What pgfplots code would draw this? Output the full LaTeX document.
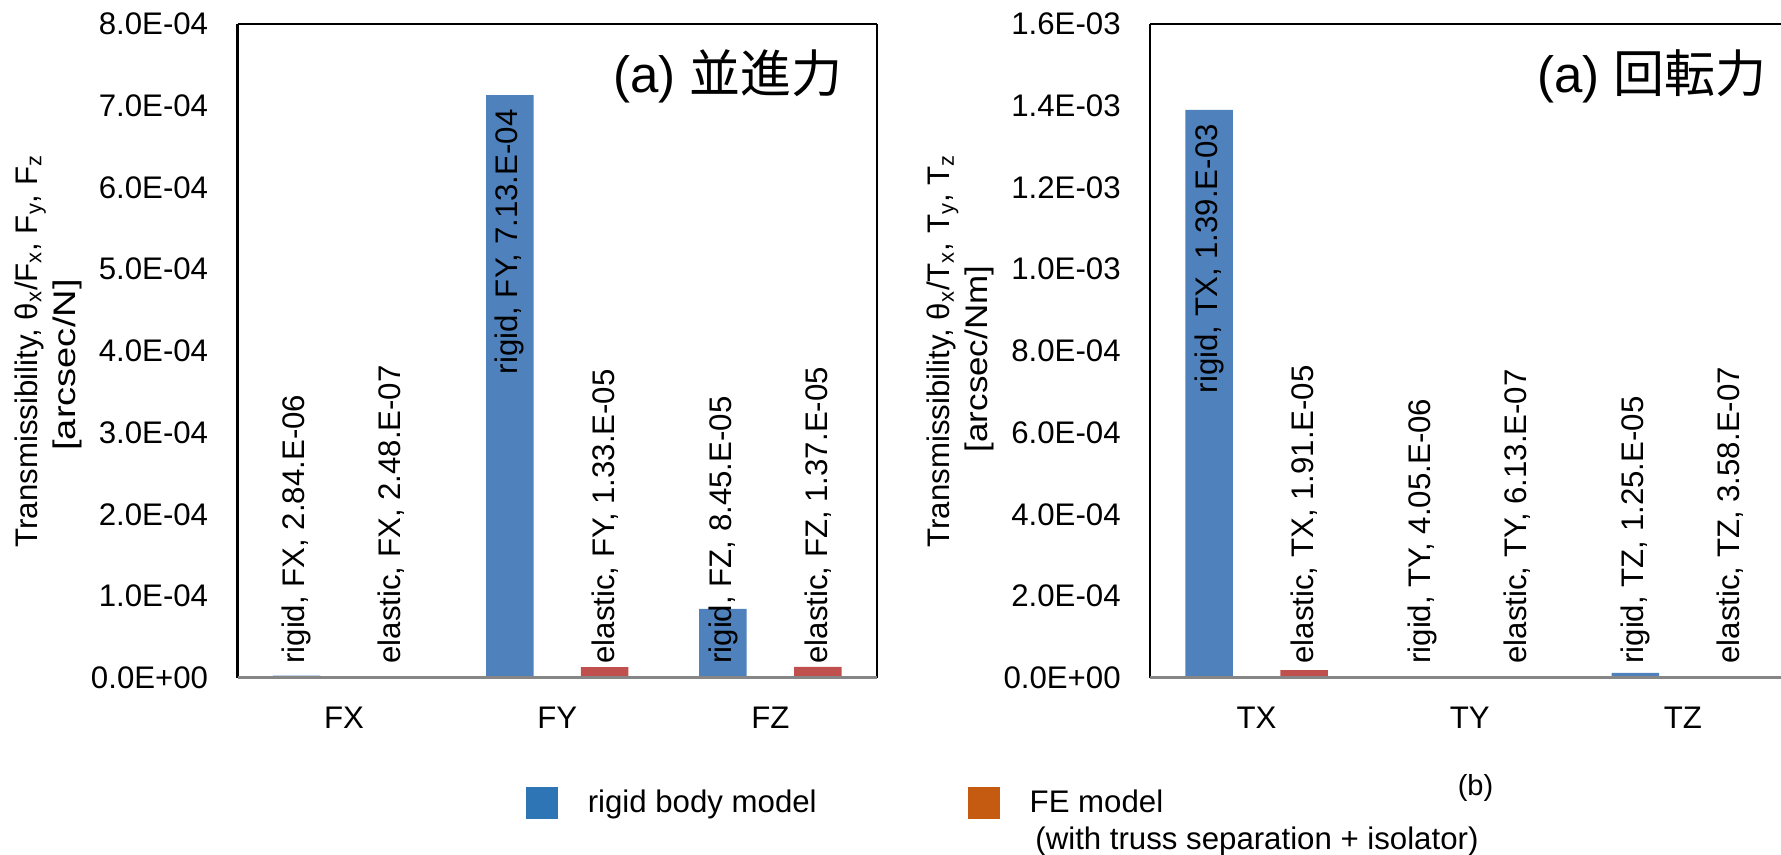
\documentclass[border=0pt]{standalone}
\usepackage{graphicx}
\usepackage{pgfplots}
\pgfplotsset{compat=1.18}
\usepackage{pgfplotstable}
\usepackage{fontspec}
\setmainfont{Liberation Sans}
\newfontfamily\cjk{Noto Sans CJK JP}

\definecolor{barblue}{HTML}{4F81BD}
\definecolor{barred}{HTML}{C0504D}
\definecolor{legblue}{HTML}{2E75B6}
\definecolor{legorange}{HTML}{C55A11}
\definecolor{axisgray}{HTML}{868686}

\newcommand\basefont{\fontsize{15.6pt}{19pt}\selectfont}
\newcommand\titlefont{\fontsize{25.5pt}{30pt}\selectfont}
% exponent printed with sign and two digits, e.g. -04
\newcommand\expfmt[1]{\ifnum#1<0 -0\number-#1\else +0\number#1\fi}
% component letter from the category position 0,1,2
\newcommand\complet[1]{\ifdim#1pt<0.5pt X\else\ifdim#1pt<1.5pt Y\else Z\fi\fi}
\pgfset{/pgf/number format/barnum/.style={sci, sci zerofill, precision=2,
    assume math mode=true,
    sci generic={mantissa sep={.E},exponent={\expfmt{##1}}}}}

% translational inputs: rtop=1 puts the rigid label inside the top of its bar
\pgfplotstableread{
x rigid   elastic rtop
0 2.84e-6 2.48e-7 0
1 7.13e-4 1.33e-5 1
2 8.45e-5 1.37e-5 0
}\forcedata
% rotational inputs
\pgfplotstableread{
x rigid   elastic rtop
0 1.39e-3 1.91e-5 1
1 4.05e-6 6.13e-7 0
2 1.25e-5 3.58e-7 0
}\torquedata

\pgfplotsset{
  tbar/.style={
    scale only axis, width=319.75pt, height=327pt,
    xmin=-0.5, xmax=2.5, xtick={0,1,2}, ymin=0,
    scaled y ticks=false,
    tick style={draw=none},
    separate axis lines,
    x axis line style={draw=none},
    y axis line style={black, line width=1.25pt},
    tick label style={font=\basefont},
    yticklabel style={anchor=east, inner sep=0pt, xshift=-14.5pt},
    xticklabel style={anchor=base, inner sep=0pt, yshift=-25.5pt},
    every axis y label/.style={at={(axis description cs:-0.3495,0.5)},
      rotate=90, anchor=north, align=center, inner sep=0pt, font=\basefont},
    clip=false,
  },
  rigidbar/.style={ybar, bar width=0.2227, bar shift=-0.2227,
    fill=barblue, draw=none, forget plot},
  elasticbar/.style={ybar, bar width=0.2227, bar shift=0.2227,
    fill=barred, draw=none, forget plot},
  barlabel/.style 2 args={draw=none, mark=none, forget plot,
    point meta=explicit,
    visualization depends on={\thisrow{x}\as\labx},
    nodes near coords={#1, #2\complet{\labx}, \pgfmathprintnumber[barnum]{\pgfplotspointmeta}}},
  rigidlabel/.style={barlabel={rigid}{#1},
    visualization depends on={180-180*\thisrow{rtop}\as\labang},
    visualization depends on={7-14*\thisrow{rtop}\as\labdy},
    nodes near coords style={yshift=\labdy pt, rotate=90, anchor=\labang,
      inner sep=0pt, font=\basefont}},
  elasticlabel/.style={barlabel={elastic}{#1},
    nodes near coords style={yshift=7pt, rotate=90, anchor=west,
      inner sep=0pt, font=\basefont}},
}

\begin{document}
\begin{tikzpicture}
% ---- forces ----
\begin{axis}[tbar, at={(118.75pt,88.5pt)}, anchor=south west,
  ymax=8e-4, ytick={0,1e-4,2e-4,3e-4,4e-4,5e-4,6e-4,7e-4,8e-4},
  yticklabels={0.0E+00,1.0E-04,2.0E-04,3.0E-04,4.0E-04,5.0E-04,6.0E-04,7.0E-04,8.0E-04},
  xticklabels={FX,FY,FZ},
  ylabel={Transmissibility, θ\textsubscript{x}/F\textsubscript{x}, F\textsubscript{y}, F\textsubscript{z}\\{\scalebox{1.22}[1]{[arcsec/N]}\hspace*{14pt}}},
  legend columns=2,
  legend style={at={(axis description cs:0.4511,-0.19037)}, anchor=west,
    draw=none, fill=none, inner sep=0pt, outer sep=0pt, font=\basefont,
    nodes={inner sep=0pt},
    /tikz/every odd column/.append style={column sep=15pt},
    /tikz/every even column/.append style={column sep=75.6pt}},
  legend cell align=left,
]
\addplot[rigidbar] table[x=x, y=rigid] {\forcedata};
\addplot[elasticbar] table[x=x, y=elastic] {\forcedata};
\addplot[rigidlabel=F] table[x expr=\thisrow{x}-0.2227, y expr=\thisrow{rigid}*\thisrow{rtop}, meta=rigid] {\forcedata};
\addplot[elasticlabel=F] table[x expr=\thisrow{x}+0.2227, y expr=0, meta=elastic] {\forcedata};
\draw[black, line width=1.25pt] (rel axis cs:0,1) -- (rel axis cs:1,1);
\draw[axisgray, line width=1.5pt] (rel axis cs:0,0) -- (rel axis cs:1,0);
\node[anchor=east, inner sep=0pt, font=\titlefont] at (axis description cs:0.9468,0.9205) {(a) {\cjk 並進力}};
\addlegendimage{legend image code/.code={\fill[legblue] (0pt,-7.75pt) rectangle (15.5pt,7.75pt);}}
\addlegendentry{rigid body model}
\addlegendimage{legend image code/.code={\fill[legorange] (0pt,-7.75pt) rectangle (15.5pt,7.75pt);}}
\addlegendentry{FE model}
\end{axis}
% ---- torques ----
\begin{axis}[tbar, at={(575pt,88.5pt)}, anchor=south west,
  ymax=1.6e-3, ytick={0,2e-4,4e-4,6e-4,8e-4,1e-3,1.2e-3,1.4e-3,1.6e-3},
  yticklabels={0.0E+00,2.0E-04,4.0E-04,6.0E-04,8.0E-04,1.0E-03,1.2E-03,1.4E-03,1.6E-03},
  xticklabels={TX,TY,TZ},
  ylabel={Transmissibility, θ\textsubscript{x}/T\textsubscript{x}, T\textsubscript{y}, T\textsubscript{z}\\{\scalebox{1.12}[1]{[arcsec/Nm]}\hspace*{8pt}}},
]
\addplot[rigidbar] table[x=x, y=rigid] {\torquedata};
\addplot[elasticbar] table[x=x, y=elastic] {\torquedata};
\addplot[rigidlabel=T] table[x expr=\thisrow{x}-0.2227, y expr=\thisrow{rigid}*\thisrow{rtop}, meta=rigid] {\torquedata};
\addplot[elasticlabel=T] table[x expr=\thisrow{x}+0.2227, y expr=0, meta=elastic] {\torquedata};
\draw[black, line width=1.25pt] (rel axis cs:0,1) -- (rel axis cs:1,1);
\draw[axisgray, line width=1.5pt] (rel axis cs:0,0) -- (rel axis cs:1,0);
\node[anchor=east, inner sep=0pt, font=\titlefont] at (axis description cs:0.9648,0.9205) {(a) {\cjk 回転力}};
\end{axis}
\node[anchor=base west, inner sep=0pt, font=\basefont] at (517.5pt,2.5pt) {(with truss separation + isolator)};
\node[inner sep=0pt, font=\fontsize{14.5pt}{17pt}\selectfont] at (737.75pt,33.5pt) {(b)};
\pgfresetboundingbox
\path[use as bounding box] (0,0) rectangle (890.5pt,427.5pt);
\end{tikzpicture}
\end{document}
